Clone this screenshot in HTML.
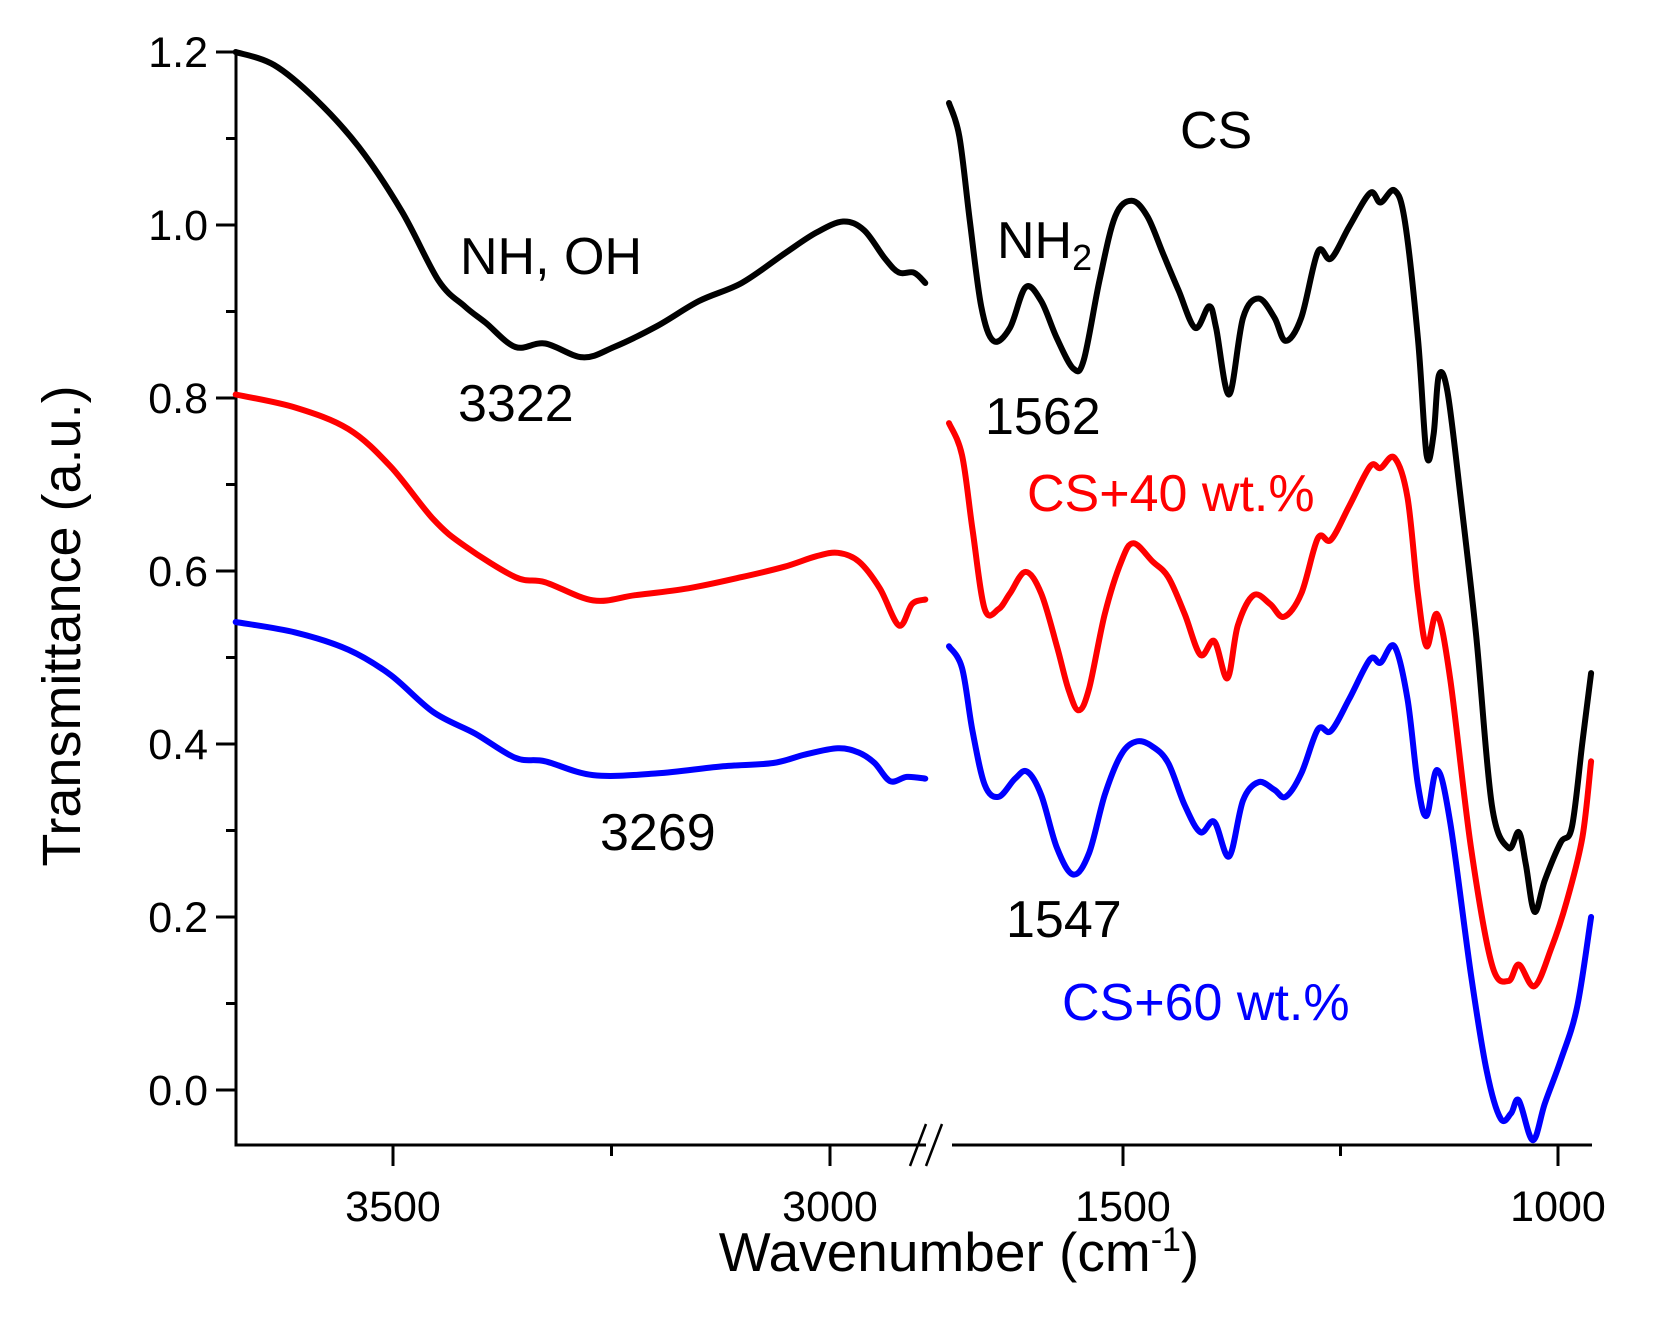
<!DOCTYPE html>
<html><head><meta charset="utf-8"><style>
html,body{margin:0;padding:0;background:#fff;}
svg{display:block;font-family:"Liberation Sans",sans-serif;}
</style></head><body>
<svg id="chart" width="1654" height="1322" viewBox="0 0 1654 1322" xmlns="http://www.w3.org/2000/svg">
<g id="axes"></g>
<g id="series"></g>
<g id="labels">
<text transform="translate(80,626) rotate(-90)" text-anchor="middle" font-size="54">Transmittance (a.u.)</text>
<text x="959" y="1271" text-anchor="middle" font-size="55">Wavenumber (cm<tspan dy="-20" font-size="34">-1</tspan><tspan dy="20">)</tspan></text>
<text x="460" y="274" font-size="52">NH, OH</text>
<text x="458" y="421" font-size="52">3322</text>
<text x="600" y="850" font-size="52">3269</text>
<text x="1180" y="148" font-size="52">CS</text>
<text x="997" y="258" font-size="52">NH<tspan dy="12" font-size="36">2</tspan></text>
<text x="985" y="434" font-size="52">1562</text>
<text x="1027" y="511" font-size="52" fill="#ff0000">CS+40 wt.%</text>
<text x="1006" y="937" font-size="52">1547</text>
<text x="1062" y="1020" font-size="52" fill="#0000ff">CS+60 wt.%</text>
</g>
</svg>
<script>
const blackLeftX=[3680,3636,3588,3539,3490,3448,3418,3394,3360,3326,3283,3247,3198,3150,3101,3052,3016,2985,2961,2937,2921,2904,2891];
const blackLeftY=[1.2,1.185,1.145,1.09,1.016,0.936,0.906,0.887,0.859,0.863,0.847,0.859,0.883,0.912,0.933,0.967,0.991,1.004,0.994,0.961,0.945,0.945,0.933];
const redLeftX=[3680,3612,3551,3503,3454,3418,3360,3326,3271,3223,3162,3101,3052,3016,2991,2967,2943,2921,2906,2891];
const redLeftY=[0.804,0.789,0.764,0.721,0.66,0.629,0.593,0.587,0.566,0.572,0.58,0.593,0.605,0.617,0.621,0.611,0.58,0.537,0.562,0.567];
const blueLeftX=[3680,3612,3551,3503,3454,3406,3360,3326,3271,3198,3125,3065,3028,2991,2967,2949,2931,2912,2891];
const blueLeftY=[0.541,0.529,0.509,0.48,0.437,0.412,0.384,0.38,0.364,0.366,0.374,0.378,0.388,0.395,0.39,0.378,0.357,0.362,0.36];
const blackRightX=[1700,1688,1676,1663,1649,1630,1612,1594,1576,1557,1545,1527,1509,1490,1472,1454,1436,1417,1401,1393,1378,1362,1344,1326,1313,1295,1276,1261,1240,1216,1204,1188,1176,1161,1151,1143,1137,1127,1112,1094,1076,1057,1045,1037,1027,1015,997,984,972,962];
const blackRightY=[1.141,1.102,1.004,0.906,0.866,0.881,0.928,0.912,0.869,0.834,0.844,0.936,1.01,1.028,1.01,0.967,0.924,0.881,0.906,0.881,0.804,0.893,0.915,0.893,0.866,0.893,0.969,0.961,0.998,1.037,1.026,1.04,1.004,0.869,0.734,0.758,0.826,0.807,0.685,0.525,0.329,0.28,0.298,0.261,0.206,0.243,0.286,0.304,0.402,0.482];
const redRightX=[1700,1685,1673,1659,1643,1630,1612,1594,1576,1563,1551,1539,1521,1502,1488,1466,1448,1429,1411,1395,1380,1368,1350,1331,1315,1295,1276,1261,1240,1216,1204,1188,1173,1161,1151,1139,1124,1100,1076,1057,1045,1027,1008,990,972,962];
const redRightY=[0.771,0.734,0.648,0.556,0.556,0.574,0.599,0.574,0.513,0.464,0.439,0.464,0.55,0.611,0.632,0.611,0.593,0.55,0.503,0.519,0.476,0.537,0.572,0.562,0.547,0.574,0.638,0.636,0.675,0.721,0.719,0.731,0.685,0.574,0.513,0.55,0.476,0.28,0.145,0.126,0.145,0.12,0.163,0.218,0.292,0.38];
const blueRightX=[1700,1685,1673,1659,1643,1624,1610,1594,1576,1557,1539,1521,1502,1484,1466,1448,1429,1411,1395,1378,1362,1344,1326,1313,1295,1276,1261,1240,1216,1204,1188,1173,1161,1151,1139,1124,1100,1082,1066,1054,1045,1029,1015,997,978,962];
const blueRightY=[0.513,0.488,0.415,0.353,0.339,0.36,0.368,0.341,0.28,0.249,0.274,0.341,0.388,0.403,0.397,0.378,0.329,0.298,0.31,0.27,0.335,0.356,0.347,0.339,0.366,0.417,0.415,0.452,0.498,0.494,0.513,0.452,0.353,0.317,0.37,0.31,0.133,0.022,-0.033,-0.027,-0.012,-0.058,-0.015,0.034,0.096,0.2];
const yTicks=[0.0,0.2,0.4,0.6,0.8,1.0,1.2];
const yTickLabels=["0.0","0.2","0.4","0.6","0.8","1.0","1.2"];
const xLeftTicks=[3500,3000];
const xRightTicks=[1500,1000];
const xLeftMinor=[3250];
const xRightMinor=[1250];

const NS="http://www.w3.org/2000/svg";
function yS(v){return 1090-v*865;}
function xL(w){return 393+(3500-w)*0.874;}
function xR(w){return 1123+(1500-w)*0.87;}
function mk(tag,attrs,parent){const e=document.createElementNS(NS,tag);for(const k in attrs)e.setAttribute(k,attrs[k]);parent.appendChild(e);return e;}
const axes=document.getElementById('axes'), series=document.getElementById('series');
const AX=236, AB=1145, AR=1592;
let e=mk('line',{x1:AX,y1:52,x2:AX,y2:AB+1.5,stroke:'#000','stroke-width':3},axes);


e=mk('path',{d:`M${AX} ${AB}H926M952 ${AB}H${AR}`,stroke:'#000','stroke-width':3,fill:'none'},axes);


e=mk('path',{d:`M910 1166L926 1124M926 1166L942 1124`,stroke:'#000','stroke-width':2.5,fill:'none'},axes);


yTicks.forEach((v,i)=>{
  const y=yS(v);
  let t=mk('line',{x1:AX-20,y1:y,x2:AX,y2:y,stroke:'#000','stroke-width':3},axes);
  
  
  if(i<yTicks.length-1){
    let m=mk('line',{x1:AX-10,y1:yS(v+0.1),x2:AX,y2:yS(v+0.1),stroke:'#000','stroke-width':3},axes);
    
    
  }
  let l=mk('text',{x:AX-28,y:y+15,'text-anchor':'end','font-size':43},axes);
  l.textContent=yTickLabels[i];
  
  
});
function xt(x,lab){
  let t=mk('line',{x1:x,y1:AB,x2:x,y2:AB+21,stroke:'#000','stroke-width':3},axes);
  
  
  let l=mk('text',{x:x,y:1221,'text-anchor':'middle','font-size':43},axes);
  l.textContent=lab;
  
  
}
function xm(x){
  let t=mk('line',{x1:x,y1:AB,x2:x,y2:AB+11,stroke:'#000','stroke-width':3},axes);
  
  
}
xLeftTicks.forEach(w=>xt(xL(w),String(w)));
xRightTicks.forEach(w=>xt(xR(w),String(w)));
xLeftMinor.forEach(w=>xm(xL(w)));
xRightMinor.forEach(w=>xm(xR(w)));
function line(xs,ys,fx,color,name){
  const P=xs.map((w,i)=>[fx(w),yS(ys[i])]);
  let d='M'+P[0][0].toFixed(1)+' '+P[0][1].toFixed(1);
  for(let i=0;i<P.length-1;i++){
    const p0=P[Math.max(0,i-1)],p1=P[i],p2=P[i+1],p3=P[Math.min(P.length-1,i+2)];
    const c1=[p1[0]+(p2[0]-p0[0])/6,p1[1]+(p2[1]-p0[1])/6];
    const c2=[p2[0]-(p3[0]-p1[0])/6,p2[1]-(p3[1]-p1[1])/6];
    d+=`C${c1[0].toFixed(1)} ${c1[1].toFixed(1)} ${c2[0].toFixed(1)} ${c2[1].toFixed(1)} ${p2[0].toFixed(1)} ${p2[1].toFixed(1)}`;
  }
  const p=mk('path',{d:d,stroke:color,'stroke-width':6,fill:'none','stroke-linejoin':'round','stroke-linecap':'round'},series);
  
  
}
line(blackLeftX,blackLeftY,xL,'#000','cs-line-left');
line(redLeftX,redLeftY,xL,'#ff0000','cs40-line-left');
line(blueLeftX,blueLeftY,xL,'#0000ff','cs60-line-left');
line(blackRightX,blackRightY,xR,'#000','cs-line-right');
line(redRightX,redRightY,xR,'#ff0000','cs40-line-right');
line(blueRightX,blueRightY,xR,'#0000ff','cs60-line-right');
</script>
</body></html>
